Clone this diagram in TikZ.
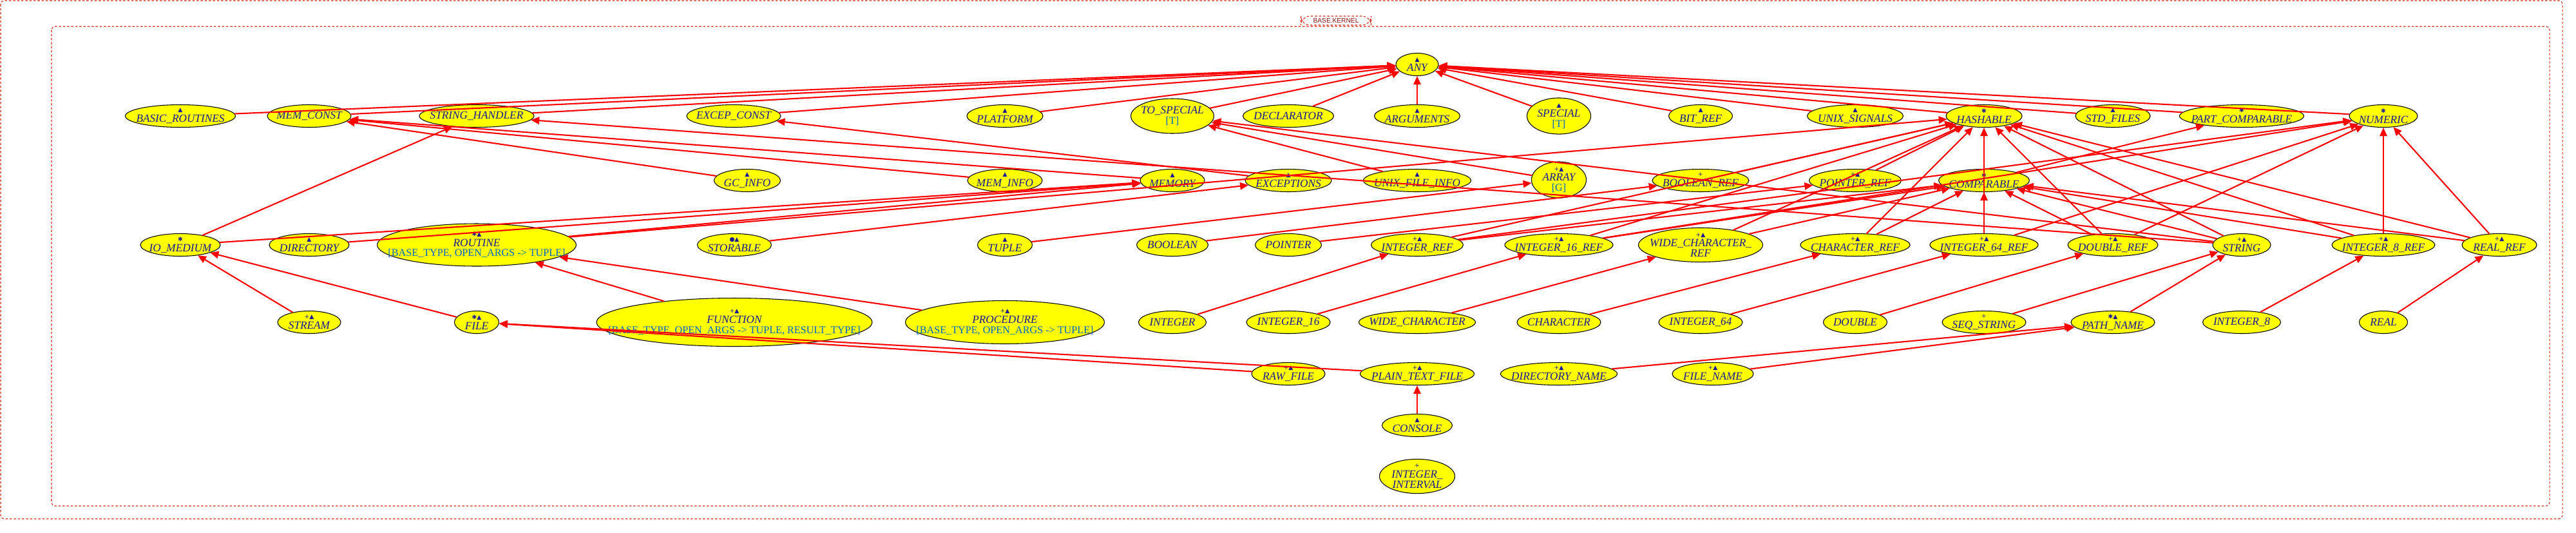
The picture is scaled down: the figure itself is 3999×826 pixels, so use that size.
\documentclass[tikz,border=0pt]{standalone}
\usepackage{fontspec}
\setmainfont{Liberation Serif}
\newfontfamily\mkfont{DejaVu Sans}
\newfontfamily\ttlfont{Liberation Sans}
\usetikzlibrary{arrows.meta,shapes.geometric}
\definecolor{nm}{RGB}{25,25,150}
\definecolor{gpc}{RGB}{0,102,204}
\definecolor{fr}{RGB}{210,40,20}
\definecolor{ttl}{RGB}{140,20,20}
\definecolor{ed}{RGB}{255,0,0}
\definecolor{fl}{RGB}{255,255,0}
\newdimen\pxu \pxu=0.01cm
\tikzset{
  cls/.style={ellipse, draw=black, line width=0.3pt, fill=fl, inner sep=0pt,
    text=nm, font=\fontsize{4.9}{4.5}\selectfont\itshape, align=center},
  inh/.style={draw=ed, line width=0.6pt, -{Triangle[length=3.7pt,width=3.2pt]}},
  frame/.style={draw=fr, line width=0.3pt, dash pattern=on 1pt off 0.8pt, rounded corners=1.5pt},
  ttlbox/.style={draw=fr, line width=0.3pt, dash pattern=on 1pt off 0.8pt, rounded corners=4pt,
    inner sep=0pt, text=ttl, font=\ttlfont\fontsize{2.9}{3}\selectfont}
}
\newcommand\mk[1]{{\mkfont\upshape\fontsize{2.6}{2.6}\selectfont #1}}
\newcommand\zb[1]{\makebox[0pt]{#1}}
\newcommand\gp[1]{{\upshape\color{gpc}\fontsize{4.6}{4.5}\selectfont #1}}
\newcommand\C[6]{\node[cls, minimum width=#4\pxu, minimum height=#5\pxu] (#1) at (#2,#3) {#6};}
\newcommand\M[2]{\zb{\mk{#1}}\\\zb{#2}}
\begin{document}
\begin{tikzpicture}[x=0.01cm,y=-0.01cm]
\useasboundingbox (0,0) rectangle (3999,826);
\draw[frame] (1,1) rectangle (3978,805);
\draw[frame] (80,41) rectangle (3958,785);
\node[ttlbox, minimum width=109\pxu, minimum height=14\pxu] (ttlnode) at (2074,32) {BASE.KERNEL};
% ANY
\C{any}{2200}{100}{66}{35}{\M{▲}{ANY}}
% row 1
\C{basic}{280}{180}{171}{35}{\M{▲}{BASIC\_ROUTINES}}
\C{memconst}{480}{180}{130}{35}{\zb{MEM\_CONST}}
\C{strh}{740}{180}{178}{35}{\zb{STRING\_HANDLER}}
\C{excconst}{1139}{180}{146}{35}{\zb{EXCEP\_CONST}}
\C{platform}{1560}{180}{118}{35}{\M{▲}{PLATFORM}}
\C{tospecial}{1820}{180}{129}{54}{\zb{TO\_SPECIAL}\\\zb{\gp{[T]}}}
\C{declarator}{2000}{180}{141}{35}{\zb{DECLARATOR}}
\C{arguments}{2200}{180}{133}{35}{\M{▲}{ARGUMENTS}}
\C{special}{2420}{180}{99}{54}{\zb{\mk{▲}}\\\zb{SPECIAL}\\\zb{\gp{[T]}}}
\C{bitref}{2640}{180}{99}{35}{\M{▲}{BIT\_REF}}
\C{unixsig}{2880}{180}{149}{35}{\M{▲}{UNIX\_SIGNALS}}
\C{hashable}{3080}{180}{118}{35}{\M{✱}{HASHABLE}}
\C{stdfiles}{3280}{180}{116}{35}{\M{▲}{STD\_FILES}}
\C{partcomp}{3480}{180}{193}{35}{\M{✱}{PART\_COMPARABLE}}
\C{numeric}{3700}{180}{106}{35}{\M{✱}{NUMERIC}}
% row 2
\C{gcinfo}{1160}{280}{103}{35}{\M{▲}{GC\_INFO}}
\C{meminfo}{1560}{280}{116}{35}{\M{▲}{MEM\_INFO}}
\C{memory}{1820}{280}{100}{35}{\M{▲}{MEMORY}}
\C{exceptions}{2000}{280}{134}{35}{\M{▲}{EXCEPTIONS}}
\C{unixfile}{2200}{280}{167}{35}{\M{▲}{UNIX\_FILE\_INFO}}
\C{array}{2420}{279}{85}{52}{\zb{\mk{+▲}}\\\zb{ARRAY}\\\zb{\gp{[G]}}}
\C{boolref}{2640}{280}{150}{35}{\M{+}{BOOLEAN\_REF}}
\C{ptrref}{2880}{280}{143}{35}{\M{+▲}{POINTER\_REF}}
\C{comparable}{3080}{280}{141}{35}{\M{✱}{COMPARABLE}}
% row 3
\C{iomedium}{280}{380}{124}{35}{\M{✱}{IO\_MEDIUM}}
\C{directory}{480}{380}{124}{35}{\M{▲}{DIRECTORY}}
\C{routine}{740}{380}{309}{66}{\zb{\mk{✱▲}}\\\zb{ROUTINE}\\\zb{\gp{[BASE\_TYPE, OPEN\_ARGS -> TUPLE]}}}
\C{storable}{1140}{380}{115}{35}{\M{●▲}{STORABLE}}
\C{tuple}{1560}{380}{85}{35}{\M{▲}{TUPLE}}
\C{boolean}{1820}{380}{111}{35}{\zb{BOOLEAN}}
\C{pointer}{2000}{380}{103}{35}{\zb{POINTER}}
\C{intref}{2200}{380}{143}{35}{\M{+▲}{INTEGER\_REF}}
\C{int16ref}{2420}{380}{168}{35}{\M{+▲}{INTEGER\_16\_REF}}
\C{wcharref}{2640}{380}{193}{50}{\zb{\mk{+▲}}\\\zb{WIDE\_CHARACTER\_}\\\zb{REF}}
\C{charref}{2880}{380}{170}{35}{\M{+▲}{CHARACTER\_REF}}
\C{int64ref}{3080}{380}{168}{35}{\M{+▲}{INTEGER\_64\_REF}}
\C{doubleref}{3280}{380}{140}{35}{\M{+▲}{DOUBLE\_REF}}
\C{string}{3480}{380}{90}{35}{\M{+▲}{STRING}}
\C{int8ref}{3700}{380}{160}{35}{\M{+▲}{INTEGER\_8\_REF}}
\C{realref}{3880}{380}{116}{35}{\M{+▲}{REAL\_REF}}
% row 4
\C{stream}{480}{500}{98}{35}{\M{+▲}{STREAM}}
\C{file}{740}{500}{69}{35}{\M{✱▲}{FILE}}
\C{function}{1140}{500}{428}{75}{\zb{\mk{+▲}}\\\zb{FUNCTION}\\\zb{\gp{[BASE\_TYPE, OPEN\_ARGS -> TUPLE, RESULT\_TYPE]}}}
\C{procedure}{1560}{500}{309}{67}{\zb{\mk{+▲}}\\\zb{PROCEDURE}\\\zb{\gp{[BASE\_TYPE, OPEN\_ARGS -> TUPLE]}}}
\C{integer}{1820}{500}{105}{35}{\zb{INTEGER}}
\C{int16}{2000}{500}{130}{35}{\zb{INTEGER\_16}}
\C{wchar}{2200}{500}{181}{35}{\zb{WIDE\_CHARACTER}}
\C{character}{2420}{500}{130}{35}{\zb{CHARACTER}}
\C{int64}{2640}{500}{130}{35}{\zb{INTEGER\_64}}
\C{double}{2880}{500}{99}{35}{\zb{DOUBLE}}
\C{seqstring}{3080}{500}{130}{35}{\M{+}{SEQ\_STRING}}
\C{pathname}{3280}{500}{130}{35}{\M{✱▲}{PATH\_NAME}}
\C{int8}{3480}{500}{121}{35}{\zb{INTEGER\_8}}
\C{real}{3700}{500}{75}{35}{\zb{REAL}}
% row 5
\C{rawfile}{2000}{580}{114}{35}{\M{+▲}{RAW\_FILE}}
\C{plainfile}{2200}{580}{177}{35}{\M{+▲}{PLAIN\_TEXT\_FILE}}
\C{dirname}{2420}{580}{181}{35}{\M{+▲}{DIRECTORY\_NAME}}
\C{filename}{2659}{580}{126}{35}{\M{+▲}{FILE\_NAME}}
% rows 6-7
\C{console}{2200}{660}{109}{35}{\M{▲}{CONSOLE}}
\C{intinterval}{2200}{739}{117}{52}{\zb{\mk{+}}\\\zb{INTEGER\_}\\\zb{INTERVAL}}
% edges to ANY
\foreach \c in {basic,memconst,strh,excconst,platform,tospecial,declarator,arguments,special,bitref,unixsig,hashable,stdfiles,partcomp,numeric}
  \draw[inh] (\c) -- (any);
% other edges
\draw[inh] (gcinfo) -- (memconst);
\draw[inh] (meminfo) -- (memconst);
\draw[inh] (memory) -- (memconst);
\draw[inh] (exceptions) -- (excconst);
\draw[inh] (unixfile) -- (tospecial);
\draw[inh] (array) -- (tospecial);
\draw[inh] (string) -- (tospecial);
\draw[inh] (string) -- (strh);
\draw[inh] (iomedium) -- (strh);
\draw[inh] (iomedium) -- (memory);
\draw[inh] (directory) -- (memory);
\draw[inh] (routine) -- (memory);
\draw[inh] (routine) -- (hashable);
\draw[inh] (storable) -- (exceptions);
\draw[inh] (tuple) -- (array);
\draw[inh] (boolean) -- (boolref);
\draw[inh] (pointer) -- (ptrref);
\draw[inh] (boolref) -- (hashable);
\draw[inh] (ptrref) -- (hashable);
\draw[inh] (comparable) -- (partcomp);
\foreach \c in {intref,int16ref,int64ref,doubleref,int8ref,realref}{
  \draw[inh] (\c) -- (hashable);
  \draw[inh] (\c) -- (comparable);
  \draw[inh] (\c) -- (numeric);
}
\foreach \c in {wcharref,charref,string}{
  \draw[inh] (\c) -- (hashable);
  \draw[inh] (\c) -- (comparable);
}
\draw[inh] (integer) -- (intref);
\draw[inh] (int16) -- (int16ref);
\draw[inh] (wchar) -- (wcharref);
\draw[inh] (character) -- (charref);
\draw[inh] (int64) -- (int64ref);
\draw[inh] (double) -- (doubleref);
\draw[inh] (seqstring) -- (string);
\draw[inh] (pathname) -- (string);
\draw[inh] (int8) -- (int8ref);
\draw[inh] (real) -- (realref);
\draw[inh] (stream) -- (iomedium);
\draw[inh] (file) -- (iomedium);
\draw[inh] (function) -- (routine);
\draw[inh] (procedure) -- (routine);
\draw[inh] (rawfile) -- (file);
\draw[inh] (plainfile) -- (file);
\draw[inh] (dirname) -- (pathname);
\draw[inh] (filename) -- (pathname);
\draw[inh] (console) -- (plainfile);
\end{tikzpicture}
\end{document}
